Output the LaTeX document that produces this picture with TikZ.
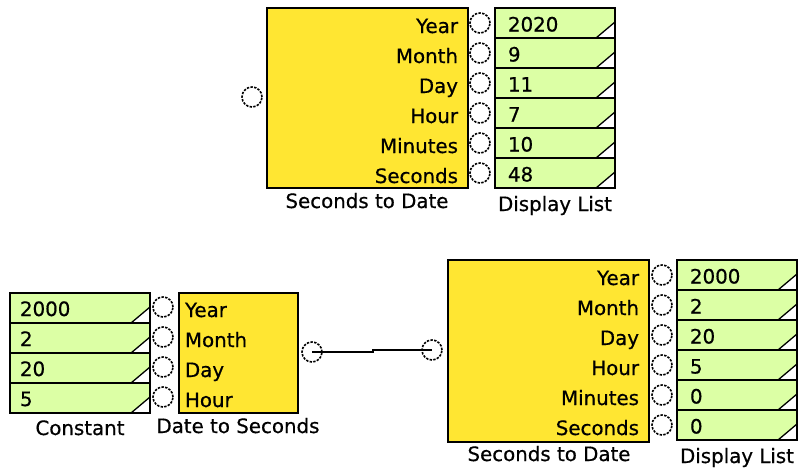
\documentclass[tikz,border=0pt]{standalone}
\usepackage{fontspec}
\setmainfont{DejaVu Sans}[FakeBold=0.6]
\definecolor{blockyellow}{RGB}{255,230,50}
\definecolor{cellgreen}{RGB}{220,255,165}
\begin{document}
\begin{tikzpicture}[x=1pt,y=-1pt,
  every node/.style={font=\fontsize{19.8}{22}\selectfont, inner sep=0pt, outer sep=0pt},
  block/.style={rectangle, draw, line width=1.4pt, fill=blockyellow},
  cell/.style={rectangle, draw, line width=1.4pt, fill=cellgreen, minimum height=30pt,
    path picture={
      \fill[white] (path picture bounding box.south east) -- ++(-19pt,0pt) -- ++(19pt,16pt) -- cycle;
      \draw[line width=1.3pt] (path picture bounding box.south east) ++(-19pt,0pt) -- ++(19pt,16pt);}},
  port/.style={circle, draw, fill=white, minimum size=20pt, line width=1.6pt, dash pattern=on 2.4pt off 1.3pt},
  lbl/.style={anchor=base},
  rlbl/.style={anchor=base east},
  llbl/.style={anchor=base west},
  wire/.style={draw, line width=1.3pt}
]
\useasboundingbox (0,0) rectangle (800,472);

% ---------- Top: Seconds to Date + Display List ----------
\node[block, minimum width=201pt, minimum height=180pt] (sdA) at (367.5,98) {};
\node[port] (sdAin) at (252,97) {};
\foreach \t [count=\i] in {Year,Month,Day,Hour,Minutes,Seconds} {
  \node[rlbl] (sdAl\i) at (458,{33+30*(\i-1)}) {\t};
  \node[port] (sdAo\i) at (480,{23+30*(\i-1)}) {};
}
\foreach \v [count=\i] in {2020,9,11,7,10,48} {
  \node[cell, minimum width=120pt] (dlA\i) at (555,{23+30*(\i-1)}) {};
  \node[llbl] (dlAv\i) at (508,{31.5+30*(\i-1)}) {\v};
}
\node[lbl] (sdAname) at (367,208) {Seconds to Date};
\node[lbl] (dlAname) at (555,211) {Display List};

% ---------- Bottom left: Constant + Date to Seconds ----------
\foreach \v [count=\i] in {2000,2,20,5} {
  \node[cell, minimum width=140pt] (cst\i) at (80,{308+30*(\i-1)}) {};
  \node[llbl] (cstv\i) at (20,{316+30*(\i-1)}) {\v};
  \node[port] (dsin\i) at (163,{307+30*(\i-1)}) {};
}
\node[block, minimum width=119pt, minimum height=120pt] (ds) at (238.5,353) {};
\foreach \t [count=\i] in {Year,Month,Day,Hour} {
  \node[llbl] (dsl\i) at (185,{317+30*(\i-1)}) {\t};
}
\node[port] (dsout) at (312,352) {};
\node[lbl] (cstname) at (80,435) {Constant};
\node[lbl] (dsname) at (238,433) {Date to Seconds};

% ---------- Bottom right: Seconds to Date + Display List ----------
\node[block, minimum width=201pt, minimum height=182pt] (sdB) at (548.5,351) {};
\node[port] (sdBin) at (432,350) {};
\foreach \t [count=\i] in {Year,Month,Day,Hour,Minutes,Seconds} {
  \node[rlbl] (sdBl\i) at (639,{285+30*(\i-1)}) {\t};
  \node[port] (sdBo\i) at (662,{275+30*(\i-1)}) {};
}
\foreach \v [count=\i] in {2000,2,20,5,0,0} {
  \node[cell, minimum width=120pt] (dlB\i) at (737,{275+30*(\i-1)}) {};
  \node[llbl] (dlBv\i) at (690,{283.5+30*(\i-1)}) {\v};
}
\node[lbl] (sdBname) at (549,461) {Seconds to Date};
\node[lbl] (dlBname) at (737,463) {Display List};

% ---------- Connector ----------
\coordinate (bend) at (373,0);
\path[wire] (dsout.center) -- (dsout.center -| bend) -- (sdBin.center -| bend) -- (sdBin.center);
\end{tikzpicture}
\end{document}
